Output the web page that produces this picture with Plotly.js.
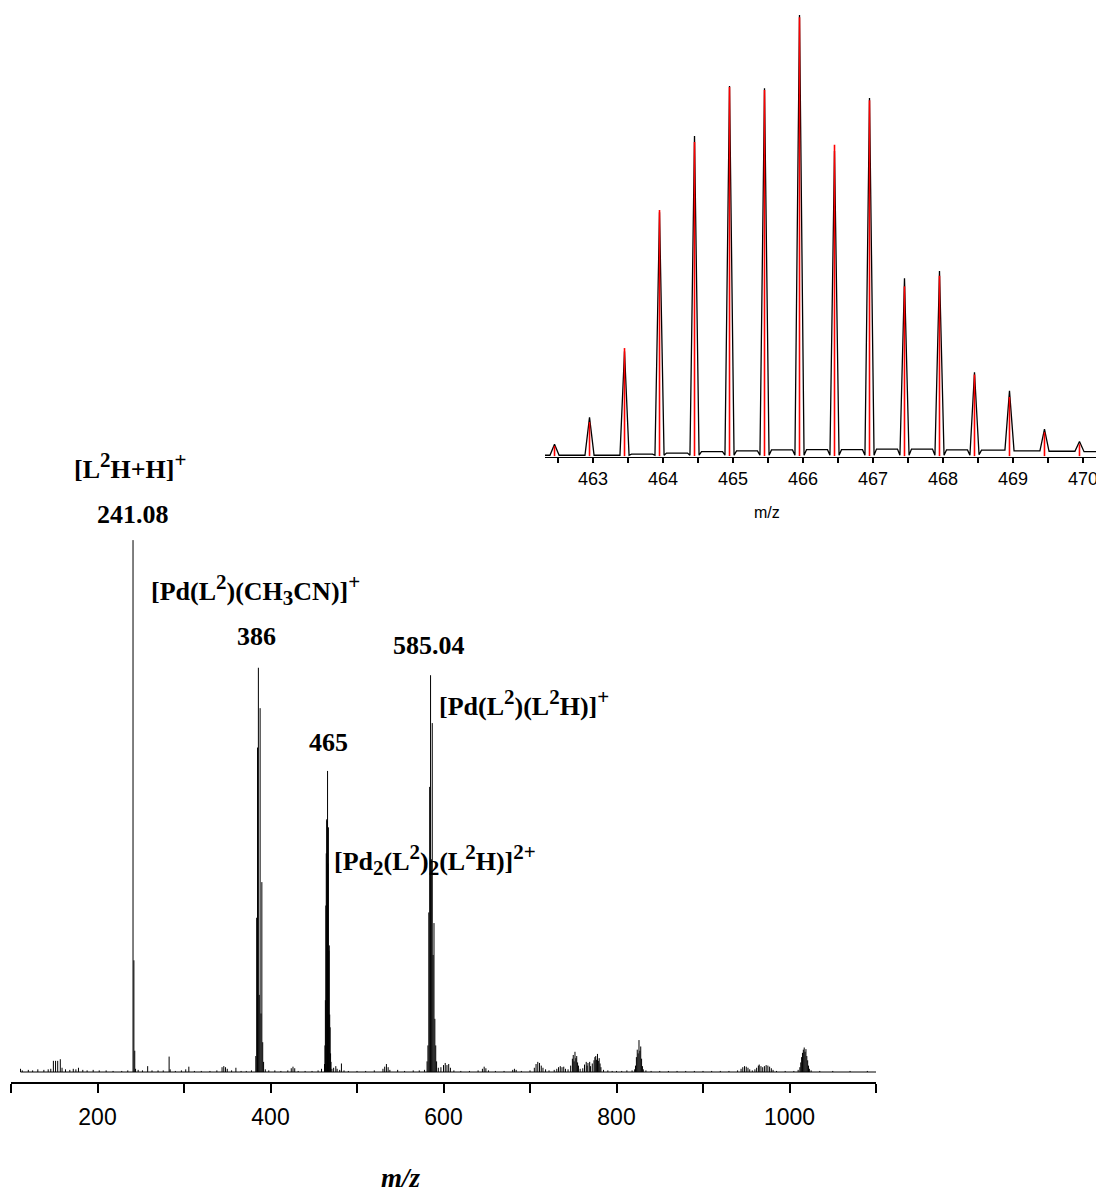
<!DOCTYPE html>
<html>
<head>
<meta charset="utf-8">
<script src="https://cdn.plot.ly/plotly-3.0.1.min.js"></script>
<style>html,body{margin:0;padding:0;background:#fff;}#chart{width:1096px;height:1193px;}</style>
</head>
<body>
<div id="chart"></div>
<script>
// ---------- Main spectrum: stick list (m/z, relative intensity %) ----------
const mainMz = [
 111,113,120,125,131,138,143,146,149,151.5,154,157,159,163,168,172,175,178,183,188,195,202,210,218,228,235,
 241.08,242.08,243.08,244,247,252,258,263,270,276,282.8,284,290,297,302,305.6,312,320,330,338,344,346,348,350,355,360,366,372,378,
 383,384,385,386,387,388,389,390,391,392,394,398,405,412,420,424,426,428,432,440,448,455,459,
 462.45,462.95,463.45,463.95,464.45,464.95,465.45,465.95,466.45,466.95,467.45,467.95,468.45,468.95,469.45,469.95,
 471,473,475.5,477,480,482,485,490,500,510,520,530,532,534,536,538,547,555,565,572,578,
 581,582,583,584,585.04,586,587,588,589,590,591,592,594,597,600,602,604,606,608,612,620,630,640,645,647,649,652,660,670,680,682,684,690,
 700,705,707,709,711,713,715,718,722,728,731,733,735,737,739,741,744,747,749,750,751,752,753,754,755,756,758,761,763,765,766,767,769,770,772,774,775,776,777,778,779,780,781,782,785,790,795,
 800,806,812,818,821,822,823,824,825,826,827,828,829,830,831,834,840,850,860,870,880,890,900,910,920,930,
 940,944,946,948,950,952,954,957,960,962,964,965,967,969,971,973,975,977,979,981,985,995,
 1005,1010,1012,1013,1014,1015,1016,1017,1018,1019,1020,1021,1022,1023,1025,1035,1050,1070,1090
];
const mainInt = [
 0.6,0.3,0.4,0.3,0.5,0.4,0.5,0.6,2.1,2.1,2.1,2.4,0.8,0.5,0.4,0.6,0.5,0.8,0.4,0.3,0.4,0.3,0.3,0.2,0.2,0.3,
 100,21,4,0.6,0.4,0.3,1.1,0.3,0.3,0.3,2.9,0.5,0.2,0.3,0.5,1.0,0.2,0.2,0.2,0.3,0.9,1.1,0.9,0.6,0.3,0.8,0.2,0.2,0.3,
 3,29,61,76,14.5,68.4,11,35.7,5.6,1.9,0.5,0.3,0.3,0.2,0.3,0.7,1.0,0.7,0.2,0.2,0.2,0.3,0.6,
 1.5,5.0,13.5,31.3,41.1,47.5,47.2,56.6,39.2,46.0,22.8,23.8,10.8,8.4,3.5,1.9,
 0.6,0.8,1.1,0.6,0.4,1.6,0.3,0.2,0.2,0.2,0.3,0.6,1.0,1.5,0.9,0.4,0.4,0.2,0.3,0.3,0.4,
 2,5,30,53.6,74.6,40,65.6,22,28,10,5,2,0.8,0.9,1.3,1.7,1.3,1.5,0.8,0.3,0.2,0.2,0.3,0.6,1.0,0.7,0.3,0.2,0.2,0.4,0.6,0.4,0.2,
 0.3,0.8,1.5,1.9,1.7,1.2,0.8,0.5,0.3,0.4,0.6,0.9,1.1,0.9,1.0,0.6,0.5,1.2,2.5,3.2,2.0,3.8,2.6,3.0,1.8,1.2,0.6,0.7,1.4,1.9,1.2,1.7,1.9,1.1,1.6,2.2,2.8,3.0,2.3,3.4,2.1,2.6,1.6,0.9,0.4,0.3,0.2,
 0.2,0.2,0.3,0.3,0.5,1.2,2.8,4.2,3.5,6.0,4.0,4.8,2.5,1.1,0.5,0.3,0.2,0.2,0.2,0.2,0.2,0.2,0.2,0.2,0.2,0.2,
 0.3,0.6,0.9,1.1,1.0,0.8,0.5,0.3,0.5,0.8,1.2,1.4,1.1,0.9,1.1,1.3,1.2,1.0,0.7,0.4,0.2,0.2,
 0.2,0.4,0.9,1.8,2.8,3.6,4.2,4.6,3.8,4.3,3.0,2.2,1.2,0.6,0.3,0.2,0.2,0.2,0.2
];
const mainBaseline = [111, 1100];
const mainTickLabels = ['200','400','600','800','1000'];

// ---------- Inset: measured profile (black) and calculated pattern (red) ----------
const insetBlackMz = [
 462.31,462.385,462.45,462.515,462.885,462.95,463.015,463.385,463.45,463.515,463.55,463.85,463.885,463.95,464.015,
 464.05,464.35,464.385,464.45,464.515,464.55,464.85,464.885,464.95,465.015,465.05,465.35,465.385,465.45,465.515,
 465.55,465.85,465.885,465.95,466.015,466.05,466.35,466.385,466.45,466.515,466.55,466.85,466.885,466.95,467.015,
 467.05,467.35,467.385,467.45,467.515,467.55,467.85,467.885,467.95,468.015,468.05,468.35,468.385,468.45,468.515,
 468.55,468.885,468.95,469.015,469.385,469.45,469.515,469.885,469.95,470.015,470.19
];
const insetBlackInt = [
 0.2,0.2,2.7,0.2,0.2,8.8,0.2,0.2,23.8,0.2,0.45,0.45,0.2,55.3,0.2,
 0.7,0.7,0.2,72.6,0.2,1.0,1.0,0.2,83.9,0.2,1.2,1.2,0.2,83.4,0.2,
 1.4,1.4,0.2,100,0.2,1.45,1.45,0.2,69.2,0.2,1.45,1.45,0.2,81.2,0.2,
 1.6,1.6,0.2,40.3,0.2,1.6,1.6,0.2,42.0,0.2,1.4,1.4,0.2,19.0,0.3,
 1.35,1.35,14.8,1.2,1.2,6.1,1.1,1.1,3.3,1.0,1.0
];
const insetRedMz = [462.45,462.95,463.45,463.95,464.45,464.95,465.45,465.95,466.45,466.95,467.45,467.95,468.45,468.95,469.45,469.95];
const insetRedInt = [2.3,7.7,24.5,55.8,71.2,83.7,83.0,99.5,70.6,80.7,38.5,40.9,18.5,13.4,5.4,2.7];

// ---------- helpers ----------
function sticks(xs, ys){
  const X=[],Y=[];
  xs.forEach((x,i)=>{X.push(x,x,null);Y.push(0,ys[i],null);});
  return {X,Y};
}
const W=1096,H=1193;
const px=v=>v/W, py=v=>1-v/H;

const ms = sticks(mainMz, mainInt);
const rs = sticks(insetRedMz, insetRedInt);

const traces = [
  {x: mainBaseline, y:[0,0], xaxis:'x', yaxis:'y', mode:'lines', line:{color:'#000',width:1}, hoverinfo:'skip'},
  {x: ms.X, y: ms.Y, xaxis:'x', yaxis:'y', mode:'lines', line:{color:'#000',width:1}, connectgaps:false, hoverinfo:'skip'},
  {x: insetBlackMz, y: insetBlackInt, xaxis:'x2', yaxis:'y2', mode:'lines', line:{color:'#000',width:1.3}, hoverinfo:'skip'},
  {x: rs.X, y: rs.Y, xaxis:'x2', yaxis:'y2', mode:'lines', line:{color:'#ff0000',width:1.6}, connectgaps:false, hoverinfo:'skip'}
];

const serif = 'Liberation Serif, Times New Roman, serif';
const sans = 'Liberation Sans, Arial, Helvetica, sans-serif';
const annFont = {family: serif, size: 26, color:'#000'};

// bigger super/subscripts, like the reference
const SUP = t => '<sup><span style="font-size:21px">'+t+'</span></sup>';
const SUB = t => '<sub><span style="font-size:21px">'+t+'</span></sub>';

function ann(text, x, y, xanchor, size){
  return {text:'<b>'+text+'</b>', x:px(x), y:py(y), xref:'paper', yref:'paper', xanchor:xanchor, yanchor:'middle',
          showarrow:false, font:Object.assign({}, annFont, size?{size:size}:{})};
}

const layout = {
  width: W, height: H,
  margin:{l:0,r:0,t:0,b:0},
  paper_bgcolor:'#fff', plot_bgcolor:'rgba(0,0,0,0)',
  showlegend:false,
  xaxis:{domain:[px(11),px(876)], range:[100,1100], anchor:'y',
    showgrid:false, zeroline:false, showline:true, linecolor:'#000', linewidth:2,
    ticks:'outside', ticklen:9, tickwidth:2, tickcolor:'#000',
    tickmode:'array', tickvals:[200,400,600,800,1000], ticktext: mainTickLabels,
    minor:{tickmode:'linear', tick0:100, dtick:100, ticks:'outside', ticklen:9, tickwidth:2, tickcolor:'#000', showgrid:false},
    tickfont:{family:sans, size:23, color:'#000'}, ticklabelstandoff:4},
  yaxis:{domain:[py(1082), py(530)], range:[-1.88, 101.9], anchor:'x',
    showgrid:false, zeroline:false, showline:false, showticklabels:false, ticks:''},
  xaxis2:{domain:[px(545),1], range:[462.314,470.186], anchor:'y2',
    showgrid:false, zeroline:false, showline:true, linecolor:'#000', linewidth:1.3,
    ticks:'outside', ticklen:5, tickwidth:1.3, tickcolor:'#000',
    tickmode:'linear', tick0:463, dtick:1, ticklabeloverflow:'allow',
    minor:{tickmode:'linear', tick0:462.5, dtick:0.5, ticks:'outside', ticklen:5, tickwidth:1.3, tickcolor:'#000', showgrid:false},
    tickfont:{family:sans, size:18, color:'#000'}},
  yaxis2:{domain:[py(457), py(10)], range:[-0.2, 101.16], anchor:'x2',
    showgrid:false, zeroline:false, showline:false, showticklabels:false, ticks:''},
  annotations:[
    ann('[L'+SUP('2')+'H+H]'+SUP('+'), 72, 466, 'left'),
    ann('241.08', 133, 514, 'center'),
    ann('[Pd(L'+SUP('2')+')(CH'+SUB('3')+'CN)]'+SUP('+'), 149, 590, 'left'),
    ann('386', 256, 636, 'center'),
    ann('585.04', 429, 645, 'center'),
    ann('465', 328, 742, 'center'),
    ann('[Pd(L'+SUP('2')+')(L'+SUP('2')+'H)]'+SUP('+'), 437, 703, 'left'),
    ann('[Pd'+SUB('2')+'(L'+SUP('2')+')'+SUB('2')+'(L'+SUP('2')+'H)]'+SUP('2+'), 332, 860, 'left'),
    {text:'<b><i>m/z</i></b>', x:px(401), y:py(1178), xref:'paper', yref:'paper', xanchor:'center', yanchor:'middle',
     showarrow:false, font:{family:serif, size:27, color:'#000'}},
    {text:'m/z', x:px(767), y:py(512), xref:'paper', yref:'paper', xanchor:'center', yanchor:'middle',
     showarrow:false, font:{family:sans, size:16, color:'#000'}}
  ]
};

Plotly.newPlot('chart', traces, layout, {staticPlot:true, displayModeBar:false});
</script>
</body>
</html>
